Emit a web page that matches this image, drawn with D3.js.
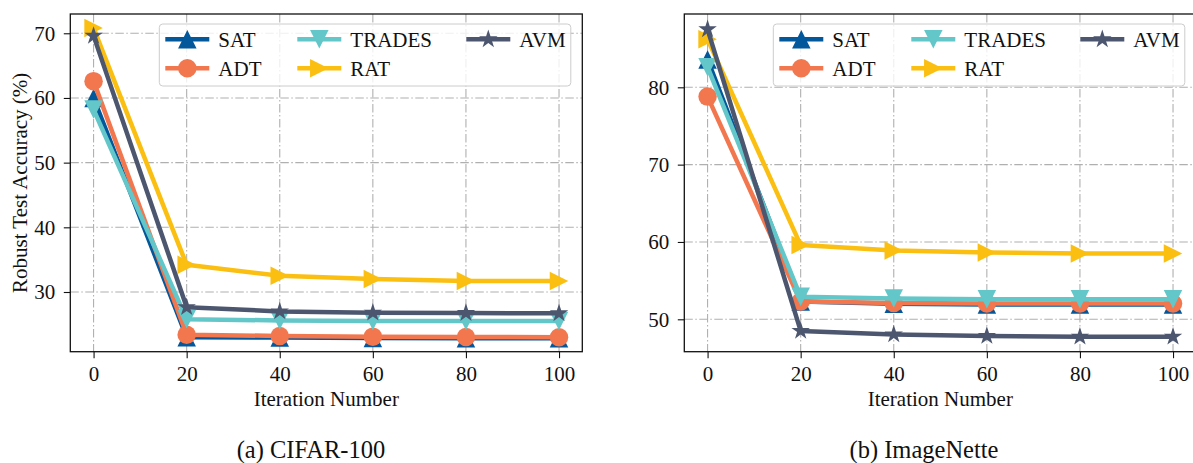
<!doctype html>
<html lang="en">
<head>
  <meta charset="utf-8">
  <script src="https://d3js.org/d3.v7.min.js"></script>
  <style>
    body { margin: 0; background: #fff; }
    svg { display: block; font-family: "Liberation Serif", "Times New Roman", Times, serif; }
  </style>
</head>
<body>
  <svg id="chart"></svg>
  <script>
    // data
    const iterations = [0, 20, 40, 60, 80, 100];
    const methods = ["SAT", "ADT", "TRADES", "RAT", "AVM"];
    const colors = ["#03579b", "#f2774e", "#63c7c9", "#fbbf12", "#4c566f"];
    const markers = ["up", "circle", "down", "right", "star"];

    // (a) CIFAR-100
    const cifarSAT    = [60.0, 23.0, 22.95, 22.9, 22.85, 22.85];
    const cifarADT    = [62.6, 23.4, 23.2, 23.1, 23.05, 23.0];
    const cifarTRADES = [58.2, 25.8, 25.6, 25.5, 25.5, 25.5];
    const cifarRAT    = [70.8, 34.2, 32.5, 32.0, 31.7, 31.7];
    const cifarAVM    = [69.6, 27.65, 27.0, 26.8, 26.75, 26.7];

    // (b) ImageNette
    const imnetSAT    = [83.6, 52.3, 52.0, 51.9, 51.9, 51.9];
    const imnetADT    = [78.8, 52.3, 52.1, 52.05, 52.05, 52.05];
    const imnetTRADES = [82.6, 52.9, 52.7, 52.6, 52.6, 52.6];
    const imnetRAT    = [86.2, 59.6, 58.9, 58.65, 58.5, 58.5];
    const imnetAVM    = [87.5, 48.5, 48.05, 47.85, 47.75, 47.75];

    const cifarTicks = [30, 40, 50, 60, 70];
    const imnetTicks = [50, 60, 70, 80];
    const xTicks = [0, 20, 40, 60, 80, 100];

    const width = 1193, height = 463;
    const fontSize = 21;
    const lineWidth = 4.5;
    const markerSize = 18.5;

    const svg = d3.select("#chart")
      .attr("width", width)
      .attr("height", height)
      .attr("viewBox", [0, 0, width, height]);

    // matplotlib-ish marker paths, centred on 0,0
    function markerPath(kind, s) {
      const r = s / 2;
      if (kind == "up") return `M0,${-r}L${r},${r}L${-r},${r}Z`;
      if (kind == "down") return `M0,${r}L${r},${-r}L${-r},${-r}Z`;
      if (kind == "right") return `M${r},0L${-r},${-r}L${-r},${r}Z`;
      if (kind == "star") {
        const pts = [];
        for (let i = 0; i < 10; i++) {
          const rad = i % 2 == 0 ? r * 1.05 : r * 1.05 * 0.382;
          const a = -Math.PI / 2 + i * Math.PI / 5;
          pts.push([rad * Math.cos(a), rad * Math.sin(a)]);
        }
        return "M" + pts.map(p => p.join(",")).join("L") + "Z";
      }
      return d3.arc()({innerRadius: 0, outerRadius: r, startAngle: 0, endAngle: 2 * Math.PI});
    }

    function drawPanel(p) {
      const g = svg.append("g");

      const x = d3.scaleLinear().domain([-5, 105]).range([p.left, p.right]);
      const y = d3.scaleLinear().domain(p.yDomain).range([p.bottom, p.top]);

      // grid
      const grid = g.append("g")
        .attr("stroke", "#b0b0b0")
        .attr("stroke-width", 1.1)
        .attr("stroke-dasharray", "8.5,2.5,1.5,2.5");
      grid.selectAll(".vg").data(xTicks).join("line")
        .attr("x1", d => x(d)).attr("x2", d => x(d))
        .attr("y1", p.top).attr("y2", p.bottom);
      grid.selectAll(".hg").data(p.yTicks).join("line")
        .attr("y1", d => y(d)).attr("y2", d => y(d))
        .attr("x1", p.left).attr("x2", p.right);

      // series
      const line = d3.line().x((d, i) => x(iterations[i])).y(d => y(d));
      p.series.forEach((vals, k) => {
        const s = g.append("g");
        s.append("path")
          .attr("d", line(vals))
          .attr("fill", "none")
          .attr("stroke", colors[k])
          .attr("stroke-width", lineWidth)
          .attr("stroke-linejoin", "round");
        s.selectAll("path.mk").data(vals).join("path")
          .attr("class", "mk")
          .attr("d", markerPath(markers[k], markerSize))
          .attr("transform", (d, i) => `translate(${x(iterations[i])},${y(d)})`)
          .attr("fill", colors[k]);
      });

      // axes
      const xAxis = g.append("g")
        .attr("transform", `translate(0,${p.bottom})`)
        .call(d3.axisBottom(x).tickValues(xTicks).tickSize(6.5).tickPadding(8).tickSizeOuter(0));
      const yAxis = g.append("g")
        .attr("transform", `translate(${p.left},0)`)
        .call(d3.axisLeft(y).tickValues(p.yTicks).tickSize(6.5).tickPadding(8.5).tickSizeOuter(0));
      [xAxis, yAxis].forEach(a => {
        a.select(".domain").remove();
        a.selectAll("line").attr("stroke", "#111").attr("stroke-width", 1.1);
        a.selectAll("text")
          .attr("font-family", "Liberation Serif, Times New Roman, serif")
          .attr("font-size", fontSize)
          .attr("fill", "#111");
      });

      // frame
      g.append("rect")
        .attr("x", p.left).attr("y", p.top)
        .attr("width", p.right - p.left).attr("height", p.bottom - p.top)
        .attr("fill", "none").attr("stroke", "#111").attr("stroke-width", 1.3);

      // labels
      g.append("text")
        .attr("x", (p.left + p.right) / 2).attr("y", 406)
        .attr("text-anchor", "middle")
        .attr("font-size", fontSize).attr("fill", "#111")
        .text("Iteration Number");

      if (p.ylabel) {
        g.append("text")
          .attr("transform", `translate(27,${(p.top + p.bottom) / 2}) rotate(-90)`)
          .attr("text-anchor", "middle")
          .attr("font-size", fontSize).attr("fill", "#111")
          .text(p.ylabel);
      }

      g.append("text")
        .attr("x", p.captionX).attr("y", 458)
        .attr("text-anchor", "middle")
        .attr("font-size", 24.5).attr("fill", "#111")
        .text(p.caption);

      // legend, 3 columns filled top to bottom
      const lg = g.append("g").attr("transform", `translate(${p.legendX},24)`);
      lg.append("rect")
        .attr("width", 411.5).attr("height", 62)
        .attr("rx", 3.5)
        .attr("fill", "#fff").attr("fill-opacity", 0.8)
        .attr("stroke", "#cccccc").attr("stroke-width", 1);
      const colX = [6, 138, 307];
      methods.forEach((m, k) => {
        const cx = colX[Math.floor(k / 2)];
        const cy = k % 2 == 0 ? 15.3 : 44.3;
        const e = lg.append("g");
        e.append("line")
          .attr("x1", cx).attr("x2", cx + 44)
          .attr("y1", cy).attr("y2", cy)
          .attr("stroke", colors[k]).attr("stroke-width", lineWidth);
        e.append("path")
          .attr("d", markerPath(markers[k], markerSize))
          .attr("transform", `translate(${cx + 22},${cy})`)
          .attr("fill", colors[k]);
        e.append("text")
          .attr("x", cx + 53).attr("y", cy).attr("dy", "0.35em")
          .attr("font-size", fontSize).attr("fill", "#111")
          .text(m);
      });
    }

    drawPanel({
      left: 70.3, right: 582.3, top: 14, bottom: 351.7,
      yDomain: [20.77, 72.98], yTicks: cifarTicks,
      series: [cifarSAT, cifarADT, cifarTRADES, cifarRAT, cifarAVM],
      ylabel: "Robust Test Accuracy (%)",
      caption: "(a) CIFAR-100", captionX: 311,
      legendX: 159.3
    });

    drawPanel({
      left: 684.3, right: 1196.3, top: 14, bottom: 351.7,
      yDomain: [45.81, 89.48], yTicks: imnetTicks,
      series: [imnetSAT, imnetADT, imnetTRADES, imnetRAT, imnetAVM],
      ylabel: null,
      caption: "(b) ImageNette", captionX: 924,
      legendX: 773.3
    });
  </script>
</body>
</html>
